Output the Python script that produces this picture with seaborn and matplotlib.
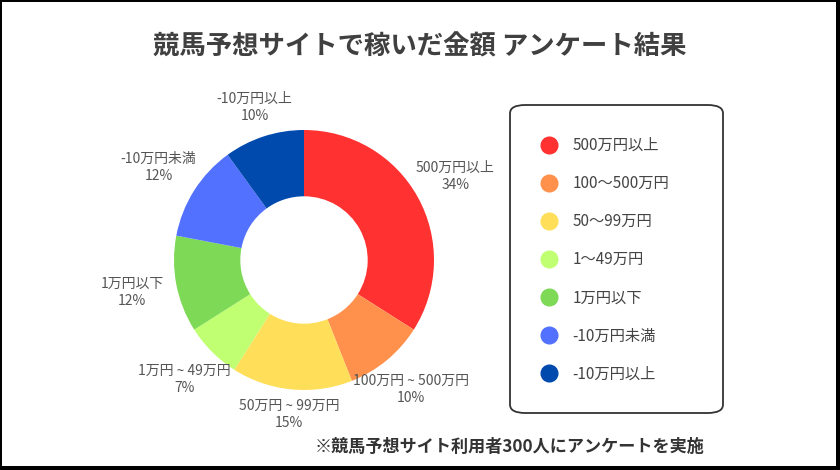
import matplotlib.pyplot as plt
import numpy as np
import seaborn as sns
from matplotlib.lines import Line2D
from matplotlib.patches import FancyBboxPatch, Rectangle

sns.set_theme(style="white")
plt.rcParams['font.family'] = ['Noto Sans CJK JP', 'DejaVu Sans']

# data
categories = ['500万円以上', '100〜500万円', '50〜99万円', '1〜49万円',
              '1万円以下', '-10万円未満', '-10万円以上']
pie_labels = ['500万円以上', '100万円 ~ 500万円', '50万円 ~ 99万円', '1万円 ~ 49万円',
              '1万円以下', '-10万円未満', '-10万円以上']
shares = [34, 10, 15, 7, 12, 12, 10]
colors = ['#FF3131', '#FF914D', '#FFDE59', '#C1FF72', '#7ED957', '#5271FF', '#004AAD']

W, H = 840, 470
fig = plt.figure(figsize=(W / 100, H / 100), dpi=100, facecolor='white')

# donut
cx, cy, R = 304, 260, 130
ax = fig.add_axes([(cx - R) / W, (H - cy - R) / H, 2 * R / W, 2 * R / H])
wedges, _ = ax.pie(shares, colors=colors, startangle=90, counterclock=False,
                   wedgeprops=dict(width=0.51, linewidth=0))
ax.set_xlim(-1, 1)
ax.set_ylim(-1, 1)
ax.set_aspect('equal')
ax.axis('off')

for w, lab, s in zip(wedges, pie_labels, shares):
    ang = np.deg2rad((w.theta1 + w.theta2) / 2)
    r = 1.18 + 0.17 * abs(np.cos(ang))
    ax.text(r * np.cos(ang), r * np.sin(ang), f'{lab}\n{s}%',
            ha='center', va='center', fontsize=10, color='#555555',
            linespacing=1.3)

# legend box
bx0, by0, bx1, by1 = 510, 105, 723, 413
box = FancyBboxPatch((bx0 / W, (H - by1) / H), (bx1 - bx0) / W, (by1 - by0) / H,
                     boxstyle='round,pad=0,rounding_size=0.018',
                     transform=fig.transFigure, facecolor='white',
                     edgecolor='#333333', linewidth=1.3)
fig.add_artist(box)

handles = [Line2D([], [], marker='o', linestyle='none', markersize=12,
                  markerfacecolor=c, markeredgecolor=c) for c in colors]
fig.legend(handles, categories, loc='upper left',
           bbox_to_anchor=(534 / W, 1 - 137 / H), frameon=False,
           fontsize=11, labelspacing=1.38, handletextpad=0.5,
           labelcolor='#444444', borderpad=0, borderaxespad=0)

# texts
fig.text(0.5, 1 - 47 / H, '競馬予想サイトで稼いだ金額 アンケート結果',
         ha='center', va='center', fontsize=19, fontweight='bold', color='#404040')
fig.text(510 / W, 1 - 447 / H, '※競馬予想サイト利用者300人にアンケートを実施',
         ha='center', va='center', fontsize=12.3, fontweight='bold', color='#333333')

# frame
for rect in [(0, 0, 2 / W, 1), (0, 1 - 2 / H, 1, 2 / H),
             (1 - 4 / W, 0, 4 / W, 1), (0, 0, 1, 4 / H)]:
    fig.add_artist(Rectangle(rect[:2], rect[2], rect[3], transform=fig.transFigure,
                             facecolor='black', edgecolor='none'))

fig.savefig('out.png', dpi=100, facecolor='white')
